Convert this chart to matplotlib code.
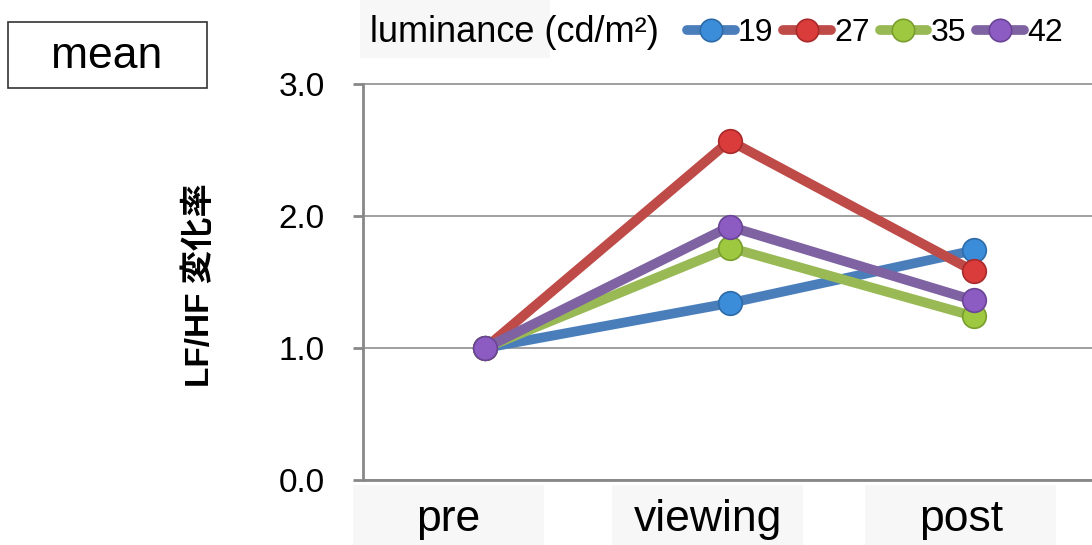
import matplotlib
matplotlib.use("Agg")
import matplotlib.pyplot as plt
from matplotlib.patches import Rectangle
import matplotlib.transforms as mtransforms

# data
phases = ["pre", "viewing", "post"]
luminance = ["19", "27", "35", "42"]
ratio_19 = [1.00, 1.34, 1.74]
ratio_27 = [1.00, 2.57, 1.58]
ratio_35 = [1.00, 1.76, 1.24]
ratio_42 = [1.00, 1.92, 1.36]
yticks = [0.0, 1.0, 2.0, 3.0]

line_colors = ["#4A7EBB", "#BE4B48", "#98B954", "#7F62A1"]
marker_colors = ["#3C8DD9", "#DA3B3B", "#9DC83F", "#8C5CC2"]
edge_colors = ["#2D6BA8", "#A82A2A", "#7A9E2E", "#6A4496"]

plt.rcParams["font.family"] = ["Liberation Sans", "Noto Sans CJK JP", "DejaVu Sans"]

W, H = 1092, 545
fig = plt.figure(figsize=(W / 100, H / 100), dpi=100)
ax = fig.add_axes([363 / W, 65 / H, 733.5 / W, 396 / H])

series = [ratio_19, ratio_27, ratio_35, ratio_42]
x = list(range(len(phases)))
handles = []
for vals, lc, mc, ec in zip(series, line_colors, marker_colors, edge_colors):
    h, = ax.plot(x, vals, color=lc, lw=7, marker="o", ms=17,
                 mfc=mc, mec=ec, mew=1.2, solid_capstyle="round", zorder=3)
    handles.append(h)

ax.set_xlim(-0.5, 2.5)
ax.set_ylim(0, 3.0)
ax.set_yticks(yticks)
ax.set_yticklabels([f"{v:.1f}" for v in yticks], fontsize=24)
ax.tick_params(axis="y", direction="out", length=7.5, width=2, color="#888888", pad=20)
ax.set_xticks([])
ax.grid(axis="y", color="#A0A0A0", lw=1.4, zorder=1)
for g in ax.get_ygridlines():
    g.set_clip_on(False)
for s in ["top", "right"]:
    ax.spines[s].set_visible(False)
for s in ["left", "bottom"]:
    ax.spines[s].set_color("#888888")
    ax.spines[s].set_linewidth(2)

# category labels on grey boxes, slightly left of the points like the original
shift = [-0.15, -0.09, -0.055]
trans = mtransforms.blended_transform_factory(ax.transData, ax.transAxes)
for i, lab in enumerate(phases):
    ax.add_patch(Rectangle((i + shift[i] - 0.39, -0.17), 0.78, 0.157, transform=trans,
                           facecolor="#F7F7F7", edgecolor="none", clip_on=False))
    ax.text(i + shift[i], -0.10, lab, transform=trans, ha="center", va="center",
            fontsize=32, clip_on=False)

# y label
fig.text(200 / W, 1 - 285 / H, "LF/HF 変化率", rotation=90, ha="center", va="center",
         fontsize=24, fontweight="bold")

# "mean" box
fig.patches.append(Rectangle((8 / W, 1 - 88 / H), 199 / W, 66 / H, transform=fig.transFigure,
                             facecolor="white", edgecolor="#333333", lw=1.2))
fig.text(107 / W, 1 - 56 / H, "mean", ha="center", va="center", fontsize=32)

# legend
fig.patches.append(Rectangle((360 / W, 1 - 58 / H), 190 / W, 58 / H, transform=fig.transFigure,
                             facecolor="#F7F7F7", edgecolor="none"))
fig.text(370 / W, 1 - 32 / H, "luminance (cd/m²)", ha="left", va="center", fontsize=26)
fig.legend(handles, luminance, loc="center left", bbox_to_anchor=(687 / W, 1 - 33 / H),
           ncol=4, frameon=False, fontsize=23,
           handlelength=1.5, handletextpad=0.1, columnspacing=0.3, borderpad=0,
           borderaxespad=0, markerscale=0.95)

fig.savefig("out.png", dpi=100)
